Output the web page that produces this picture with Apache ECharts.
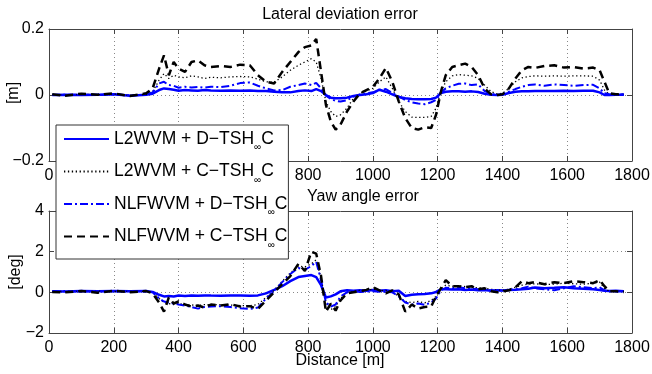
<!DOCTYPE html>
<html><head><meta charset="utf-8">
<script src="https://cdn.jsdelivr.net/npm/echarts@6/dist/echarts.min.js"></script>
<style>html,body{margin:0;padding:0;background:#fff}#c{width:652px;height:374px}</style>
</head><body><div id="c"></div>
<script>
// Distance samples [m]
var distance = [10,50,100,150,200,250,300,320,340,355,370,385,400,420,440,460,480,500,530,560,590,620,645,670,695,720,745,770,790,810,825,840,855,870,885,900,920,940,960,980,1000,1020,1040,1060,1080,1100,1120,1140,1160,1180,1195,1210,1225,1245,1265,1285,1305,1325,1345,1365,1385,1400,1420,1440,1460,1480,1500,1530,1560,1590,1620,1650,1680,1700,1715,1730,1750,1775];

var seriesNames = ['L2WVM + D\u2212TSH\u221EC','L2WVM + C\u2212TSH\u221EC','NLFWVM + D\u2212TSH\u221EC','NLFWVM + C\u2212TSH\u221EC'];

// Lateral deviation error [m]
var latL2D = [0,0.001,0,0.001,0.002,-0.002,0.001,0.004,0.015,0.02,0.018,0.016,0.013,0.015,0.014,0.013,0.015,0.014,0.013,0.014,0.013,0.014,0.012,0.012,0.01,0.008,0.008,0.012,0.014,0.012,0.018,0.012,0,-0.008,-0.01,-0.01,-0.008,-0.003,0,0.002,0.006,0.016,0.01,0.002,-0.006,-0.01,-0.012,-0.013,-0.013,-0.012,-0.008,0.006,0.01,0.011,0.011,0.01,0.011,0.009,0.004,0.001,0,0.001,0.006,0.01,0.011,0.011,0.012,0.012,0.012,0.013,0.012,0.013,0.013,0.008,0,0,0.001,0.001];
var latL2C = [0.001,0,0.002,0.001,0.003,-0.001,0.002,0.01,0.045,0.065,0.05,0.06,0.055,0.052,0.058,0.055,0.05,0.054,0.052,0.055,0.056,0.055,0.048,0.04,0.038,0.055,0.075,0.09,0.1,0.11,0.1,0.05,-0.02,-0.05,-0.065,-0.06,-0.04,-0.01,0.005,0.012,0.02,0.04,0.055,0.02,-0.02,-0.05,-0.067,-0.068,-0.068,-0.065,-0.04,0.01,0.04,0.058,0.062,0.06,0.058,0.05,0.03,0.01,0.003,0.005,0.02,0.04,0.052,0.056,0.058,0.057,0.058,0.057,0.058,0.058,0.057,0.045,0.015,0.002,0.001,0.002];
var latNLD = [0,0.001,0.001,0,0.002,-0.001,0.001,0.008,0.035,0.04,0.03,0.028,0.022,0.025,0.023,0.024,0.022,0.025,0.024,0.028,0.036,0.038,0.028,0.02,0.014,0.015,0.025,0.03,0.035,0.03,0.037,0.02,-0.002,-0.012,-0.018,-0.02,-0.016,-0.005,0.002,0.005,0.008,0.015,0.018,0.006,-0.004,-0.015,-0.022,-0.026,-0.028,-0.022,-0.015,0.008,0.02,0.028,0.034,0.035,0.03,0.032,0.012,0.003,0.001,0.002,0.01,0.018,0.025,0.03,0.032,0.028,0.032,0.03,0.028,0.03,0.031,0.02,0.005,0.002,0.001,0.002];
var latNLC = [0.002,-0.002,0.004,0.001,0.005,-0.003,0.005,0.02,0.08,0.12,0.06,0.1,0.08,0.07,0.1,0.105,0.09,0.085,0.088,0.085,0.092,0.09,0.06,0.04,0.035,0.07,0.1,0.13,0.145,0.15,0.17,0.07,-0.03,-0.08,-0.105,-0.09,-0.05,-0.02,0.005,0.015,0.025,0.05,0.082,0.04,-0.02,-0.07,-0.1,-0.105,-0.098,-0.1,-0.06,0.01,0.06,0.085,0.09,0.095,0.085,0.06,0.02,0.002,0,0.002,0.02,0.05,0.075,0.085,0.082,0.088,0.09,0.083,0.085,0.08,0.083,0.075,0.04,0.005,0.002,0.002];

// Yaw angle error [deg]
var yawL2D = [0.05,0.04,0.06,0.05,0.07,0.05,0.06,0.02,-0.12,-0.2,-0.18,-0.2,-0.16,-0.18,-0.15,-0.17,-0.15,-0.16,-0.17,-0.15,-0.16,-0.17,-0.15,-0.05,0.12,0.3,0.55,0.75,0.8,0.85,0.75,0.35,-0.25,-0.2,-0.1,0.05,0.1,0.08,0.1,0.08,0.12,0.08,0.1,0.05,0.08,-0.18,-0.12,-0.1,-0.08,-0.05,0.02,0.15,0.15,0.14,0.15,0.12,0.14,0.1,0.12,0.08,0.1,0.09,0.12,0.13,0.15,0.18,0.24,0.2,0.22,0.25,0.2,0.18,0.15,0.12,0.08,0.06,0.08,0.05];
var yawL2C = [0.03,0.05,0.04,0.06,0.04,0.05,0.05,0,-0.3,-0.5,-0.55,-0.6,-0.55,-0.6,-0.62,-0.65,-0.6,-0.62,-0.6,-0.63,-0.65,-0.66,-0.6,-0.25,0.1,0.55,0.95,1.3,1.25,1.4,1.6,0.7,-0.5,-0.85,-0.7,-0.3,-0.02,0.05,0.1,0.12,0.15,0.1,0.08,0.05,-0.2,-0.45,-0.5,-0.45,-0.52,-0.4,-0.2,0.2,0.35,0.3,0.32,0.28,0.25,0.22,0.2,0.15,0.12,0.1,0.15,0.25,0.35,0.4,0.42,0.38,0.4,0.45,0.42,0.4,0.45,0.5,0.2,0.05,0.05,0.04];
var yawNLD = [0.05,0.06,0.04,0.06,0.05,0.06,0.04,0,-0.3,-0.45,-0.5,-0.55,-0.6,-0.65,-0.72,-0.8,-0.72,-0.7,-0.68,-0.72,-0.78,-0.82,-0.75,-0.3,0.05,0.5,0.9,1.2,1.1,1.3,1.5,0.6,-0.5,-0.7,-0.6,-0.2,0,0.05,0.02,0.04,0.05,0.03,0.02,0,-0.2,-0.5,-0.6,-0.55,-0.62,-0.5,-0.3,0.1,0.22,0.2,0.25,0.2,0.18,0.15,0.12,0.1,0.08,0.1,0.12,0.15,0.2,0.28,0.2,0.15,0.1,0.2,0.3,0.25,0.2,0.25,0.1,0.05,0.04,0.05];
var yawNLC = [0.02,0,0.06,-0.02,0.08,0,0.06,-0.05,-0.5,-0.95,-0.25,-0.55,-0.45,-0.6,-0.7,-0.65,-0.75,-0.6,-0.65,-0.58,-0.7,-0.68,-0.82,-0.4,0,0.4,0.8,1.4,1.05,2,1.9,0.8,-0.95,-0.55,-0.9,-0.4,-0.05,0,0.05,0.12,0.25,0.1,-0.05,0.1,-0.1,-0.95,-0.6,-0.8,-0.72,-0.7,-0.2,0.2,0.6,0.3,0.3,0.25,0.3,0.15,0.2,0.05,0,0.05,0.1,0.25,0.55,0.45,0.5,0.4,0.5,0.45,0.55,0.5,0.45,0.6,0.3,0.05,0.05,0.02];

var xTicks = [0,200,400,600,800,1000,1200,1400,1600,1800];
var latTicks = [-0.2,0,0.2];
var yawTicks = [-2,0,2,4];

function pairs(v){ return distance.map(function(d,i){ return [d, v[i]]; }); }

var FONT = 'Liberation Sans';
var axisCol = '#444';
var styles = [
  {color:'#0000ff', width:2.5, type:'solid'},
  {color:'#000000', width:1.3, type:[1.3,2.6]},
  {color:'#0000ff', width:2, type:[8,3,2,3]},
  {color:'#000000', width:2.5, type:[8,5]}
];
var latData = [latL2D, latL2C, latNLD, latNLC];
var yawData = [yawL2D, yawL2C, yawNLD, yawNLC];

function minusFmt(v){ return String(v).replace('-', '\u2212'); }

function xAx(grid, labels){
  return {type:'value', gridIndex:grid, min:xTicks[0], max:xTicks[xTicks.length-1], interval:xTicks[1]-xTicks[0],
    axisLine:{show:true, onZero:false, lineStyle:{color:axisCol, width:1}},
    axisTick:{show:true, inside:true, length:5, lineStyle:{color:axisCol}},
    axisLabel:{show:labels, color:'#000', fontSize:16, fontFamily:FONT, margin:7, formatter:function(v){return String(v);}},
    splitLine:{show:labels, lineStyle:{color:'#888', type:[1,3], width:1}}};
}
function xAxTop(grid){
  var a = xAx(grid,false); a.position='top'; a.splitLine={show:false}; return a;
}
function yAx(grid, ticks){
  return {type:'value', gridIndex:grid, min:ticks[0], max:ticks[ticks.length-1], interval:ticks[1]-ticks[0],
    axisLine:{show:true, onZero:false, lineStyle:{color:axisCol, width:1}},
    axisTick:{show:true, inside:true, length:5, lineStyle:{color:axisCol}},
    axisLabel:{color:'#000', fontSize:16, fontFamily:FONT, margin:5, formatter:minusFmt},
    splitLine:{show:true, lineStyle:{color:'#888', type:[1,3], width:1}}};
}
function yAxRight(grid, ticks){
  return {type:'value', gridIndex:grid, position:'right', min:ticks[0], max:ticks[ticks.length-1], interval:ticks[1]-ticks[0],
    axisLine:{show:true, onZero:false, lineStyle:{color:axisCol, width:1}},
    axisTick:{show:true, inside:true, length:5, lineStyle:{color:axisCol}},
    axisLabel:{show:false}, splitLine:{show:false}};
}

var series = [];
for (var i=0;i<4;i++){
  series.push({name:seriesNames[i], type:'line', xAxisIndex:0, yAxisIndex:0, data:pairs(latData[i]),
    symbol:'none', lineStyle:styles[i], itemStyle:{color:styles[i].color}, z:2+i, silent:true});
}
for (var j=0;j<4;j++){
  series.push({name:seriesNames[j], type:'line', xAxisIndex:2, yAxisIndex:2, data:pairs(yawData[j]),
    symbol:'none', lineStyle:styles[j], itemStyle:{color:styles[j].color}, z:2+j, silent:true});
}

var txt = function(t, x, y, rot){
  return {type:'text', x:x, y:y, rotation:rot||0, z:10,
    style:{text:t, x:0, y:0, textAlign:'center', textVerticalAlign:'middle', font:'16px "Liberation Sans"', fill:'#000'}};
};

var chart = echarts.init(document.getElementById('c'), null, {renderer:'canvas'});
chart.setOption({
  animation:false,
  backgroundColor:'#fff',
  grid:[
    {left:49, top:29, width:583, height:132, outerBoundsMode:'none', containLabel:false},
    {left:49, top:211, width:583, height:122, outerBoundsMode:'none', containLabel:false}
  ],
  xAxis:[xAx(0,true), xAxTop(0), xAx(1,true), xAxTop(1)],
  yAxis:[yAx(0,latTicks), yAxRight(0,latTicks), yAx(1,yawTicks), yAxRight(1,yawTicks)],
  legend:{
    show:true, orient:'vertical', left:56, top:125, data:seriesNames,
    backgroundColor:'#fff', borderColor:'#333', borderWidth:1,
    padding:[5,1,9,7], itemGap:10, itemWidth:45, itemHeight:14,
    selectedMode:false,
    itemStyle:{opacity:0, borderWidth:0},
    formatter:function(n){ var k=n.indexOf('\u221E'); return '{m|'+n.slice(0,k)+'}{s|\u221E}{m|'+n.slice(k+1)+'}'; },
    textStyle:{color:'#000', fontSize:17.5, fontFamily:FONT,
      rich:{m:{fontSize:17.5, fontFamily:FONT, color:'#000'}, s:{fontSize:10, fontFamily:FONT, color:'#000', padding:[17,0,0,0]}}}
  },
  graphic:[
    txt('Lateral deviation error', 340, 15),
    txt('Yaw angle error', 363, 197),
    txt('Distance [m]', 340, 361),
    txt('[m]', 14, 93, Math.PI/2),
    txt('[deg]', 16, 272, Math.PI/2)
  ],
  series:series
});
</script>
</body></html>
